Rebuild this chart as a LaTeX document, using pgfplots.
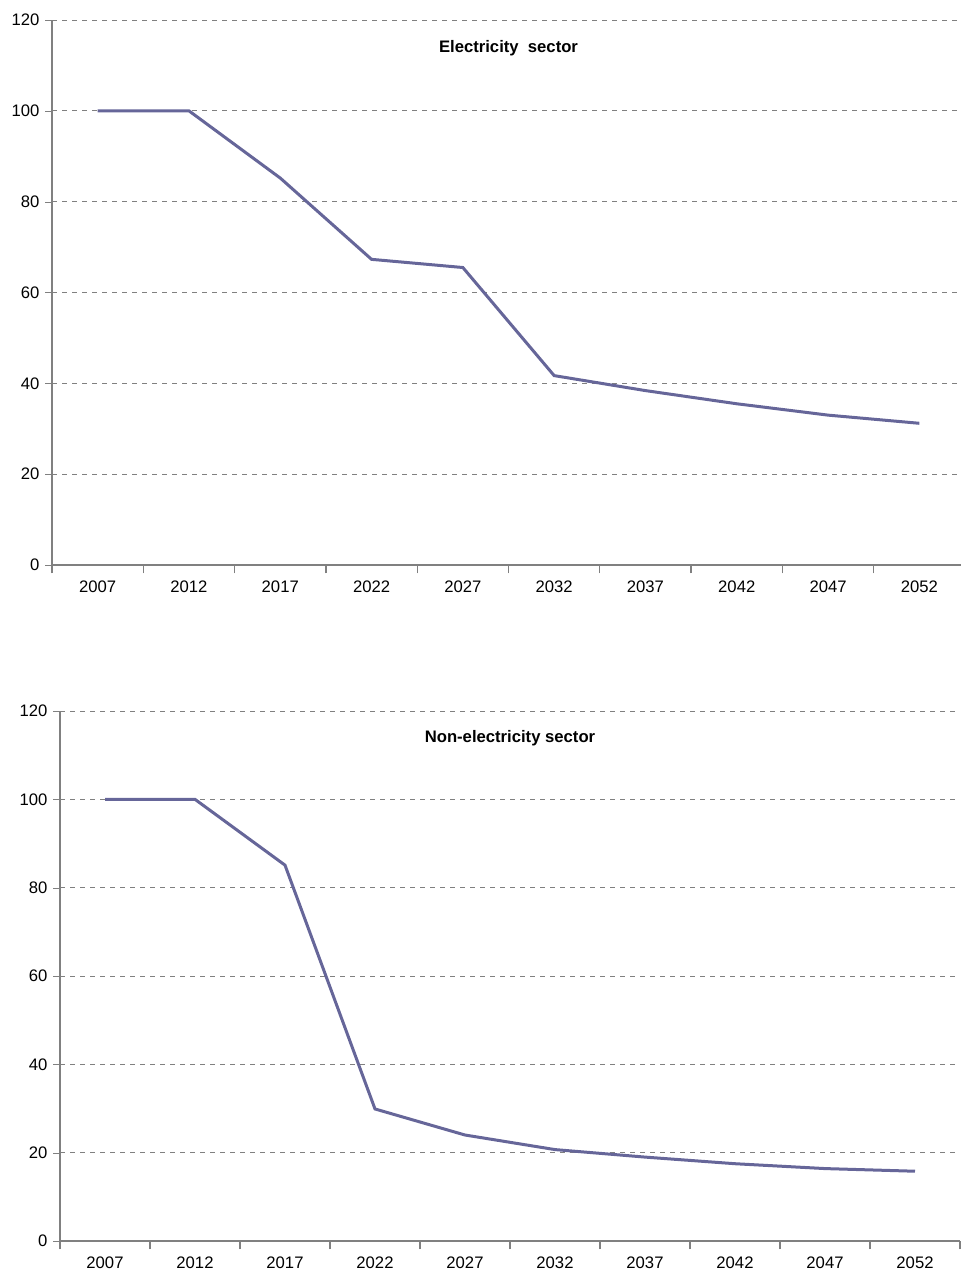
\documentclass[border=0pt]{standalone}
\usepackage{pgfplots}
\pgfplotsset{compat=1.18}
\usepackage{fontspec}
\setmainfont{Liberation Sans}
\definecolor{ln}{RGB}{102,102,153}
\pgfplotsset{myax/.style={
  scale only axis, anchor=south west,
  xmin=-0.5, xmax=9.5, ymin=0, ymax=120, ytick={0,20,...,120},
  xtick={0,...,9}, xticklabels={2007,2012,2017,2022,2027,2032,2037,2042,2047,2052},
  minor xtick={-0.5,0.5,...,9.5}, major x tick style={draw=none},
  minor x tick style={gray, thick}, x tick label style={yshift=-2pt},
  axis x line*=bottom, axis y line*=left,
  axis line style={gray, thick}, tick style={gray}, y tick style={gray},
  ymajorgrids, grid style={dashed, gray},
  tick label style={font=\fontsize{10}{12}\selectfont},
  /pgf/number format/assume math mode=true,
  tick align=outside, major tick length=4pt, minor tick length=5pt,
  title style={at={(0.5,0.955)}, anchor=north, font=\bfseries\fontsize{10}{12}\selectfont},
}}
\begin{document}
\begin{tikzpicture}
\path[use as bounding box] (0,0) rectangle (576pt,-764.4pt);
\begin{axis}[myax, at={(31.2pt,-339pt)}, width=547.8pt, height=327pt, title={Electricity\ \ sector}]
\addplot[ln, line width=1.8pt] coordinates {(0,100)(1,100)(2,85.2)(3,67.3)(4,65.5)(5,41.7)(6,38.4)(7,35.5)(8,33)(9,31.2)};
\end{axis}
\begin{axis}[myax, at={(36pt,-744.6pt)}, width=540pt, height=318pt, title={Non-electricity sector}]
\addplot[ln, line width=1.8pt] coordinates {(0,100)(1,100)(2,85.1)(3,29.9)(4,24)(5,20.7)(6,19)(7,17.5)(8,16.4)(9,15.8)};
\end{axis}
\end{tikzpicture}
\end{document}
